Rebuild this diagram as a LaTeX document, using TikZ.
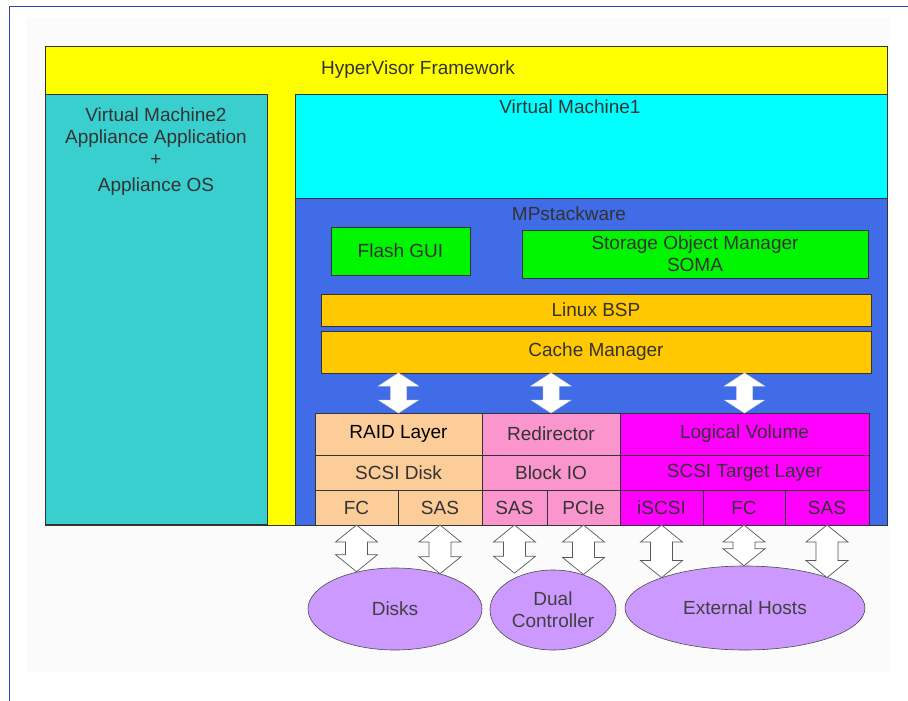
\documentclass[tikz,border=0pt]{standalone}
\usepackage{fontspec}
\setmainfont{Liberation Sans}
\usetikzlibrary{%
  calc,%
  positioning,%
  shapes.geometric%
}
\definecolor{hvyellow}{RGB}{255,255,0}
\definecolor{vmteal}{RGB}{58,207,207}
\definecolor{vmcyan}{RGB}{0,255,255}
\definecolor{mpblue}{RGB}{65,108,232}
\definecolor{guigreen}{RGB}{0,245,0}
\definecolor{bspgold}{RGB}{255,200,0}
\definecolor{raidpeach}{RGB}{252,204,153}
\definecolor{redirpink}{RGB}{250,150,205}
\definecolor{lvmagenta}{RGB}{255,0,255}
\definecolor{hostlilac}{RGB}{204,153,255}
\definecolor{frameblue}{RGB}{50,70,170}
\newcommand{\lbl}{\fontsize{19}{22}\selectfont}
% hollow double arrow: style, top end, bottom end, head half width, shaft half width, head length
\newcommand{\fatlink}[6]{%
  \draw[#1] let \p1=#2, \p2=#3 in
    (\x1,\y1) -- ({\x1+#4},{\y1-#6}) -- ({\x1+#5},{\y1-#6})
    -- ({\x1+#5},{\y2+#6}) -- ({\x1+#4},{\y2+#6}) -- (\x1,\y2)
    -- ({\x1-#4},{\y2+#6}) -- ({\x1-#5},{\y2+#6})
    -- ({\x1-#5},{\y1-#6}) -- ({\x1-#4},{\y1-#6}) -- cycle;}
\tikzset{layer/.style={rectangle, draw=black!80, line width=0.6pt, inner sep=0pt,
    outer sep=0pt, anchor=north west, font=\lbl, text=black!80},
  caption/.style={font=\lbl, text=black!80, inner sep=0pt},
  disc/.style={ellipse, draw=black!70, fill=hostlilac, line width=0.6pt,
    inner sep=0pt, font=\lbl, text=black!75, align=center},
  inarrow/.style={fill=white, draw=black!12, line width=0.5pt},
  outarrow/.style={fill=white, draw=black!65, line width=0.7pt}}

\begin{document}
\begin{tikzpicture}[x=1pt,y=-1pt]
  \useasboundingbox (0,0) rectangle (908,701);
  \fill[black!1.5] (27,18) rectangle (890,672);
  \draw[frameblue,line width=1pt] (9,701) -- (9,7) -- (908,7);

  % hypervisor and the virtual machines
  \node[layer,fill=hvyellow,minimum width=842pt,minimum height=479pt] (hyper) at (45,46) {};
  \node[caption] (hypertext) at (418,70) {HyperVisor Framework};
  \node[layer,fill=vmteal,minimum width=222pt,minimum height=430pt] (vm2) at (45,94) {};
  \node[caption,align=center,anchor=north] (vm2text) at (156,108)
    {Virtual Machine2\\Appliance Application\\+\\[4pt]Appliance OS};
  \node[layer,fill=vmcyan,minimum width=592pt,minimum height=104pt] (vm1) at (295,94) {};
  \node[caption] (vm1text) at (570,107) {Virtual Machine1};
  \node[layer,fill=mpblue,minimum width=592pt,minimum height=327pt] (mp) at (295,198) {};
  \node[caption] (mptext) at (569,214) {MPstackware};

  % MPstackware modules
  \node[layer,fill=guigreen,minimum width=139pt,minimum height=48pt] (gui) at (331,227) {Flash GUI};
  \node[layer,fill=guigreen,minimum width=346pt,minimum height=48pt,align=center] (soma) at (522,230)
    {Storage Object Manager\\SOMA};
  \node[layer,fill=bspgold,minimum width=550pt,minimum height=32pt] (bsp) at (321,294) {Linux BSP};
  \node[layer,fill=bspgold,minimum width=550pt,minimum height=42pt] (cache) at (321,331) {Cache Manager};

  % storage stacks
  \node[layer,fill=raidpeach,text=black,minimum width=167pt,minimum height=42pt] (raid) at (315,413) {RAID Layer};
  \node[layer,fill=raidpeach,minimum width=167pt,minimum height=35pt] (scsidisk) at (raid.south west) {SCSI Disk};
  \node[layer,fill=raidpeach,minimum width=83pt,minimum height=35pt] (fcA) at (scsidisk.south west) {FC};
  \node[layer,fill=raidpeach,minimum width=84pt,minimum height=35pt] (sasA) at (fcA.north east) {SAS};

  \node[layer,fill=redirpink,minimum width=138pt,minimum height=42pt] (redir) at (raid.north east) {Redirector};
  \node[layer,fill=redirpink,minimum width=138pt,minimum height=35pt] (blockio) at (redir.south west) {Block IO};
  \node[layer,fill=redirpink,minimum width=65pt,minimum height=35pt] (sasB) at (blockio.south west) {SAS};
  \node[layer,fill=redirpink,minimum width=73pt,minimum height=35pt] (pcie) at (sasB.north east) {PCIe};

  \node[layer,fill=lvmagenta,minimum width=249pt,minimum height=42pt] (logvol) at (redir.north east) {Logical Volume};
  \node[layer,fill=lvmagenta,minimum width=249pt,minimum height=35pt] (target) at (logvol.south west) {SCSI Target Layer};
  \node[layer,fill=lvmagenta,minimum width=83pt,minimum height=35pt] (iscsi) at (target.south west) {iSCSI};
  \node[layer,fill=lvmagenta,minimum width=82pt,minimum height=35pt] (fcC) at (iscsi.north east) {FC};
  \node[layer,fill=lvmagenta,minimum width=84pt,minimum height=35pt] (sasC) at (fcC.north east) {SAS};

  % attached devices
  \node[disc,minimum width=174pt,minimum height=82pt] (disks) at (395,609) {Disks};
  \node[disc,minimum width=126pt,minimum height=80pt] (dual) at (553,610) {Dual\\Controller};
  \node[disc,minimum width=240pt,minimum height=84pt] (hosts) at (745,608) {External Hosts};

  \foreach \blk in {raid,redir,logvol}
    \fatlink{inarrow}{(cache.south -| \blk.north)}{(\blk.north)}{20pt}{8pt}{13pt};
  \foreach \port/\dev/\ang in {fcA/disks/135,sasA/disks/38,sasB/dual/125,pcie/dual/50,
      iscsi/hosts/160,fcC/hosts/90,sasC/hosts/20}
    \fatlink{outarrow}{(\port.south)}{(\port.south |- \dev.\ang)}{21pt}{11pt}{17pt};
\end{tikzpicture}
\end{document}
